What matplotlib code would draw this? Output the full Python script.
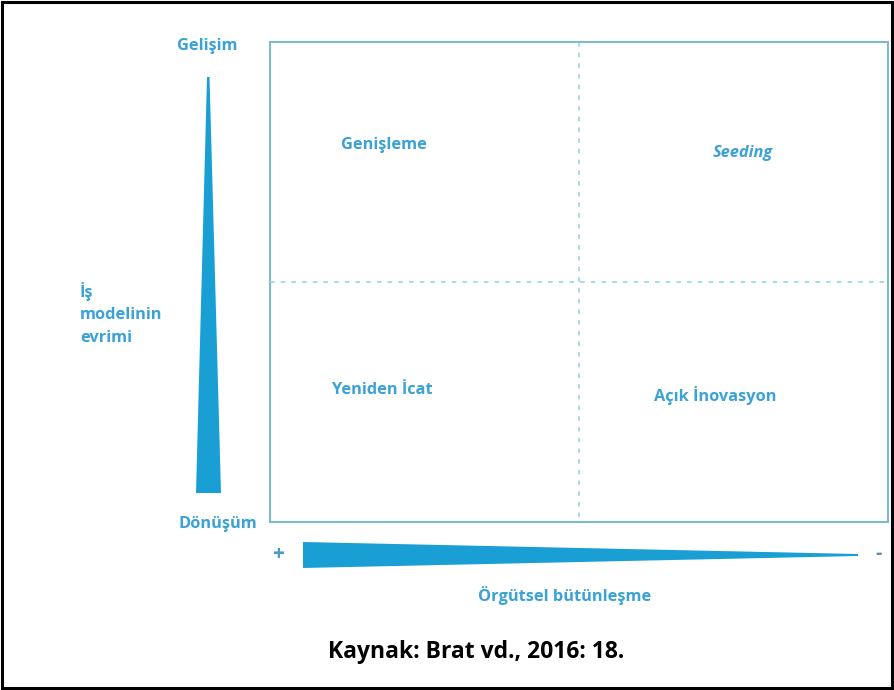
import matplotlib
matplotlib.use("Agg")
import matplotlib.pyplot as plt
from matplotlib.patches import Polygon, Rectangle

# ---- content ----
quadrant_labels = ["Genişleme", "Seeding", "Yeniden İcat", "Açık İnovasyon"]
quadrant_italic = [False, True, False, False]
y_axis_top = "Gelişim"
y_axis_bottom = "Dönüşüm"
y_axis_title = "İş\nmodelinin\nevrimi"
x_axis_left = "+"
x_axis_right = "-"
x_axis_title = "Örgütsel bütünleşme"
source = "Kaynak: Brat vd., 2016: 18."

BLUE = "#1a9fd4"
TEXT = "#3aa2d6"
BOX = "#80b9c9"
DASH = "#8fd0de"
FONT = ["Open Sans", "DejaVu Sans"]
FS = 11.8

W, H = 894, 690
fig = plt.figure(figsize=(W / 100, H / 100), dpi=100)
ax = fig.add_axes([0, 0, 1, 1])
ax.set_xlim(0, W)
ax.set_ylim(H, 0)
ax.axis("off")

# outer black frame
fig.patches.append(Rectangle((0.002, 0.003), 0.996, 0.994, transform=fig.transFigure,
                             fill=False, edgecolor="black", linewidth=2.2))

# quadrant box
x0, x1, y0, y1 = 270, 888, 42, 522
xm, ym = 579, 282
ax.add_patch(Rectangle((x0, y0), x1 - x0, y1 - y0, fill=False, edgecolor=BOX, linewidth=1.5))
ax.plot([xm, xm], [y0, y1], color=DASH, linewidth=1.1, linestyle=(0, (3, 4)))
ax.plot([x0, x1], [ym, ym], color=DASH, linewidth=1.1, linestyle=(0, (3, 4)))

# quadrant labels
qpos = [(384, 145), (743, 153), (382, 390), (715, 396)]
for lab, it, (qx, qy) in zip(quadrant_labels, quadrant_italic, qpos):
    ax.text(qx, qy, lab, color=TEXT, fontsize=FS, fontweight="bold",
            style="italic" if it else "normal", family=FONT, ha="center", va="center")

# vertical wedge
ax.add_patch(Polygon([(207, 77), (209.5, 77), (221, 493), (196, 493)], closed=True,
                     facecolor=BLUE, edgecolor="none"))
ax.text(207, 46, y_axis_top, color=TEXT, fontsize=FS, fontweight="bold", family=FONT,
        ha="center", va="center")
ax.text(218, 524, y_axis_bottom, color=TEXT, fontsize=FS, fontweight="bold", family=FONT,
        ha="center", va="center")
ax.text(80, 314, y_axis_title, color=TEXT, fontsize=FS, fontweight="bold", family=FONT,
        ha="left", va="center", linespacing=1.55)

# horizontal wedge
ax.add_patch(Polygon([(303, 542), (858, 554), (858, 556), (303, 568)], closed=True,
                     facecolor=BLUE, edgecolor="none"))
ax.text(278, 555, x_axis_left, color="#4a9cc4", fontsize=15, fontweight="bold", family=FONT,
        ha="center", va="center")
ax.text(879, 554, x_axis_right, color="#5b93a6", fontsize=14, fontweight="bold", family=FONT,
        ha="center", va="center")
ax.text(565, 596, x_axis_title, color=TEXT, fontsize=FS, fontweight="bold", family=FONT,
        ha="center", va="center")

ax.text(476, 652, source, color="black", fontsize=16.5, fontweight="bold", family=FONT,
        ha="center", va="center")

fig.savefig("out.png", dpi=100, facecolor="white")
